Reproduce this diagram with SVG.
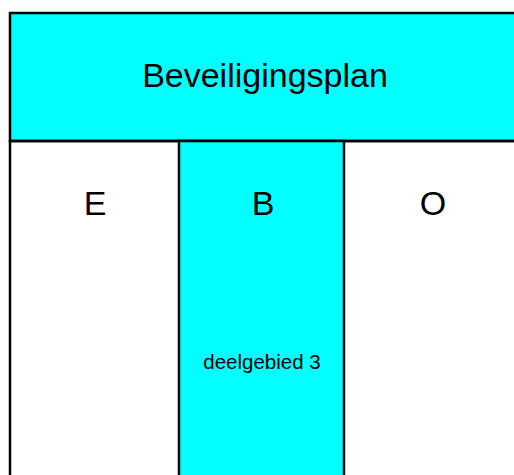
<svg xmlns="http://www.w3.org/2000/svg" width="514" height="475" viewBox="0 0 514 475">
<style>
.box{stroke:#000;stroke-width:2.5}
.t{font-family:"Liberation Sans",Arial,sans-serif;fill:#000;text-anchor:middle}
.big{font-size:34px}
</style>
<rect width="514" height="475" fill="#fff"/>
<g id="plan">
<rect class="box" x="10" y="13" width="520" height="128" fill="#00ffff"/>
<text class="t big" x="265" y="87">Beveiligingsplan</text>
</g>
<g id="outer">
<rect class="box" x="10" y="141" width="520" height="350" fill="none"/>
</g>
<g id="E">
<text class="t big" x="95" y="215">E</text>
</g>
<g id="B">
<rect class="box" x="179" y="141" width="165" height="350" fill="#00ffff"/>
<text class="t big" x="263" y="215">B</text>
<text class="t" x="262" y="369" font-size="20.5">deelgebied 3</text>
</g>
<g id="O">
<text class="t big" x="433" y="215">O</text>
</g>
<g id="connectors"></g>
</svg>
